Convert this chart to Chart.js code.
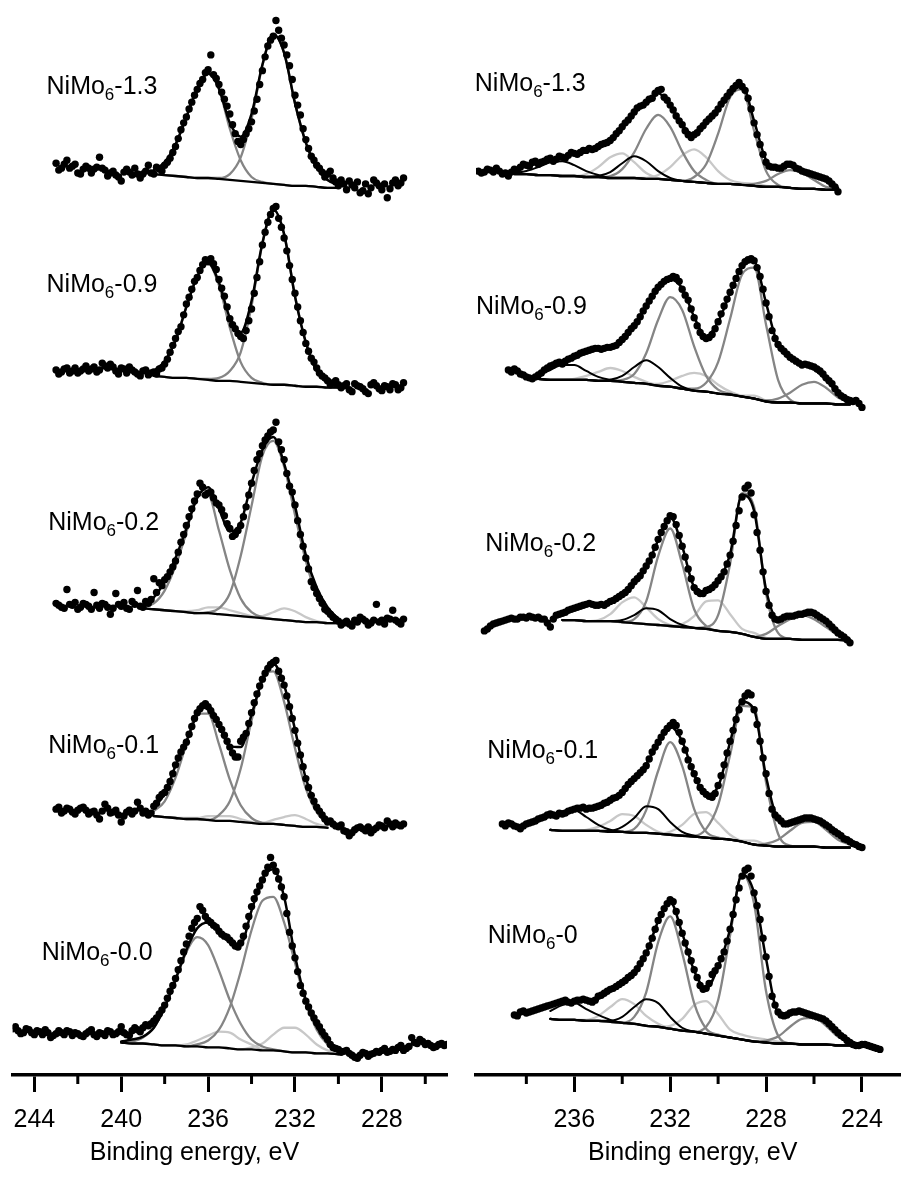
<!DOCTYPE html>
<html><head><meta charset="utf-8">
<script src="https://cdn.jsdelivr.net/npm/chart.js@4.4.1/dist/chart.umd.min.js"></script>
<style>
html,body{margin:0;padding:0;background:#fff;width:904px;height:1182px;overflow:hidden}
.wrap{position:absolute;top:0;width:452px;height:1182px}
</style></head><body>
<div class="wrap" style="left:0"><canvas id="cl"></canvas></div>
<div class="wrap" style="left:452px"><canvas id="cr"></canvas></div>
<script>
// ---------------- DATA ----------------
// Measured points every 0.25 eV (main) plus the points lying half-way (mid); fitted curves every 0.5 eV
const DOT_STEP = 0.25, FIT_STEP = 0.5;

const leftMajorTicks = [244, 240, 236, 232, 228];
const leftMinorTicks = [242, 238, 234, 230, 226];
const rightMajorTicks = [236, 232, 228, 224];
const rightMinorTicks = [238, 234, 230, 226];

const leftNames = ['1.3', '0.9', '0.2', '0.1', '0.0'];
const rightNames = ['1.3', '0.9', '0.2', '0.1', '0'];

const leftOffsets = [901, 698, 459, 251, 21];
const rightOffsets = [897, 681, 441, 231, 30];

const leftDotStart = [243, 243, 243, 243, 245];
const leftFitStart = [238.5, 238.5, 239, 238.5, 240];
const rightDotStart = [240, 238.75, 239.75, 239, 238.5];
const rightFitStart = [238.5, 237.5, 236.5, 237, 237];

// ---- Left panel ----
const L1_dots = [25,20,28,22,15,19,20,19,31,18,15,13,7,19,13,14,14,23,14,19,23,30,42,59,72,87,100,110,120,115,105,90,75,55,44,55,67,90,119,144,154,160,145,124,94,74,49,32,23,16,14,10,2,4,7,0,-5,4,0,5,-2,-10,5,2,10];
const L1_mid  = [18,24,20,24,14,22,15,21,20,12,17,11,16,16,20,10,17,15,21,17,26,36,50,66,80,94,106,117,135,111,97,83,64,47,49,60,78,105,133,150,170,152,135,110,84,60,40,28,20,11,17,6,8,-2,3,6,-3,-6,8,2,4,-1,8,5];
const L1_base = [14,13,12,11,10,10,9,8,7,6,5,4,3,2,2,1,0,0];
const L1_env  = [18,26,44,72,101,116,101,66,52,75,125,156,137,86,46,21,8,3];
const L1_A    = [18,26,44,72,101,116,100,60,28,11,6,4,3,2,2,1,0,0];
const L1_B    = [14,13,12,11,10,10,10,14,31,70,124,156,137,86,46,21,8,3];

const L2_dots = [18,16,20,17,15,19,17,21,18,22,24,17,20,15,18,14,17,13,16,19,24,36,50,62,85,100,112,125,128,126,110,93,70,60,52,58,80,112,145,168,182,172,152,124,96,68,45,30,20,12,7,5,3,2,-2,4,1,-4,3,2,-3,1,4,-2,5];
const L2_mid  = [14,19,15,20,17,22,19,16,25,20,21,14,19,21,16,12,18,15,14,20,29,43,57,74,92,108,119,130,131,120,101,82,64,55,50,68,96,128,158,176,184,163,139,110,82,56,37,26,15,10,3,7,0,4,-4,2,-1,-6,5,-1,2,-2,3,0];
const L2_base = [12,11,10,10,9,8,7,7,6,5,4,3,3,2,1,1,0,0];
const L2_env  = [17,27,48,82,113,127,107,71,56,88,147,181,156,93,46,17,5,1];
const L2_A    = [17,27,48,82,113,126,104,61,26,10,5,3,3,2,1,1,0,0];
const L2_B    = [12,11,10,10,9,9,10,17,36,83,146,181,156,93,46,17,5,1];

const L3_dots = [20,16,34,18,14,20,17,31,15,19,9,30,17,15,22,33,16,20,45,41,44,52,63,82,99,116,131,138,132,127,120,109,96,90,99,118,142,166,180,190,196,184,166,139,120,90,66,42,30,20,12,6,2,0,-1,3,6,2,0,19,3,5,13,1,4];
const L3_mid  = [18,15,19,21,16,19,14,18,20,16,15,19,21,14,19,17,22,24,31,38,47,57,72,90,108,124,142,130,133,122,115,101,88,94,108,130,155,172,186,194,204,176,152,133,104,78,55,36,25,14,9,4,-2,2,-3,1,4,-2,3,1,-1,4,3,-1];
const L3_base = [15,14,13,12,11,10,10,9,8,7,6,5,4,3,2,1,1,0,0];
const L3_env  = [16,26,42,66,96,127,138,116,93,102,142,176,189,162,119,69,36,16,4];
const L3_A    = [16,20,33,58,92,130,130,94,54,25,11,6,4,3,2,1,1,0,0];
const L3_B    = [15,14,13,12,11,10,11,15,30,68,119,170,185,159,110,63,28,10,3];
const L3_C    = [15,14,13,12,11,10,10,9,8,7,6,7,11,15,12,6,2,0,0];
const L3_D    = [15,14,13,12,12,13,16,16,13,10,7,5,4,3,2,1,1,0,0];

const L4_dots = [19,15,20,16,18,21,14,17,9,24,15,18,6,16,14,26,15,13,22,31,36,47,64,77,87,103,117,124,123,114,105,94,82,72,88,96,117,136,151,162,168,159,145,123,99,74,50,33,21,13,6,4,1,-3,-8,-2,1,-3,-5,0,2,7,1,3,4];
const L4_mid  = [21,17,19,14,20,18,16,13,17,20,16,13,12,18,17,20,17,15,25,34,41,55,71,82,95,111,121,126,119,110,100,88,76,72,92,106,127,144,157,166,170,152,134,111,86,62,41,27,17,9,7,2,3,-4,-5,0,-1,1,-2,3,0,4,5,2];
const L4_base = [12,11,10,9,9,8,7,7,6,5,4,4,3,2,1,1,0];
const L4_env  = [20,35,63,88,115,124,105,83,82,115,150,167,145,100,50,22,6];
const L4_A    = [17,27,51,85,116,116,85,49,23,10,5,4,3,2,1,1,0];
const L4_B    = [12,11,10,9,9,8,13,27,60,109,152,159,128,81,40,16,4];
const L4_C    = [12,11,10,9,9,8,7,7,6,5,5,8,11,13,9,4,1];
const L4_D    = [12,11,10,10,10,12,12,12,9,6,4,4,3,2,1,1,0];

const L5_dots = [26,24,22,25,20,23,25,17,21,22,24,19,21,18,23,20,22,19,23,21,28,20,24,25,27,29,34,41,50,64,77,95,112,128,138,146,136,131,125,120,116,110,113,130,150,165,177,190,192,178,160,124,98,70,54,42,32,23,15,7,5,3,1,-3,-1,1,0,3,4,2,5,7,4,8,12,15,10,9,8,11,10];
const L5_mid  = [28,21,26,22,24,20,22,19,24,20,23,22,19,21,25,18,21,24,20,23,22,19,27,23,30,31,37,45,57,70,86,104,120,134,150,140,134,129,122,119,113,109,120,140,158,171,184,200,186,170,143,110,84,62,48,37,28,19,10,6,2,4,-1,-4,2,-2,1,2,6,3,4,9,6,17,11,13,11,7,10,9];
const L5_base = [12,11,11,10,9,9,8,8,7,7,6,5,5,4,4,3,2,2,1,1,0];
const L5_env  = [13,15,18,27,48,76,106,128,134,124,114,112,146,178,188,160,100,55,28,12,3];
const L5_A    = [12,13,17,27,47,75,104,119,111,85,55,31,15,8,5,3,2,2,1,1,0];
const L5_B    = [12,11,11,10,9,9,8,10,14,25,48,84,126,156,160,134,93,53,25,10,3];
const L5_C    = [12,11,11,10,9,9,8,8,7,7,6,5,7,11,20,27,27,20,10,4,1];
const L5_D    = [12,11,11,10,9,9,10,14,19,23,22,15,10,5,4,3,2,2,1,1,0];

// ---- Right panel ----
const R1_dots = [21,20,22,24,18,16,23,25,27,30,28,31,34,33,35,37,39,40,42,43,46,49,52,59,66,73,81,87,91,95,103,96,88,77,68,58,58,64,71,77,84,93,101,108,107,95,70,48,30,25,24,26,28,24,21,19,17,15,13,8,0];
const R1_mid  = [19,23,20,21,19,20,22,28,26,31,30,33,31,36,34,40,38,42,44,44,48,50,55,62,70,77,85,88,94,100,104,93,83,72,62,55,60,67,74,80,89,97,105,111,103,84,58,38,26,25,24,28,27,23,20,18,16,14,11,5];
const R1_base = [18,18,17,17,16,16,15,15,14,14,14,13,13,12,11,10,9,8,8,7,6,5,5,4,3,3,2,2];
const R1_env  = [23,26,29,33,35,38,42,46,53,66,80,91,100,88,68,58,70,84,101,108,72,32,24,27,22,17,12,4];
const R1_A    = [18,18,17,17,16,16,15,15,16,23,40,64,78,66,41,21,12,8,8,7,6,5,5,4,3,3,2,2];
const R1_B    = [18,18,17,17,16,16,15,15,14,14,14,13,13,12,11,15,28,59,96,104,62,21,7,4,3,3,2,2];
const R1_C    = [18,18,17,17,16,16,18,25,35,39,30,19,14,12,11,10,9,8,8,7,6,5,5,4,3,3,2,2];
const R1_D    = [18,18,17,17,16,16,15,15,14,14,14,14,17,25,37,43,35,21,12,9,8,6,5,4,3,3,2,2];
const R1_E    = [18,18,17,17,16,16,15,16,20,29,36,31,21,14,11,10,9,8,8,7,6,5,5,4,3,3,2,2];
const R1_F    = [19,21,25,30,31,27,21,17,14,14,14,13,13,12,11,10,9,8,8,7,6,5,5,4,3,3,2,2];
const R1_G    = [18,18,17,17,16,16,15,15,14,14,14,13,13,12,11,10,9,8,8,7,8,11,18,22,19,12,5,3];

const R2_dots = [35,36,31,28,26,30,35,39,42,41,46,49,52,54,56,57,57,58,60,66,73,80,89,100,110,119,125,128,129,117,106,88,73,67,71,84,100,114,128,141,147,146,130,103,75,61,54,48,44,40,40,38,34,27,21,12,7,4,4,-3];
const R2_mid  = [33,34,30,27,28,32,37,40,43,44,47,50,53,55,57,56,58,59,63,69,77,84,95,105,115,122,127,130,125,111,97,80,69,68,77,92,107,121,135,145,148,139,117,89,67,57,51,46,42,41,39,36,31,24,16,9,5,3,1];
const R2_base = [26,25,25,25,25,24,24,23,22,21,19,18,16,14,13,11,10,8,6,3,2,2,1,1,1,0,0];
const R2_env  = [30,38,42,48,53,56,58,65,80,99,118,127,118,89,69,84,113,140,145,103,60,49,41,36,25,12,4];
const R2_A    = [26,25,25,25,25,24,24,25,31,52,86,109,96,59,29,15,11,8,6,3,2,2,1,1,1,0,0];
const R2_B    = [26,25,25,25,25,24,24,23,22,21,19,18,16,16,22,43,87,132,139,81,25,5,1,1,1,0,0];
const R2_C    = [26,25,25,26,29,33,37,34,28,23,19,18,16,14,13,11,10,8,6,3,2,2,1,1,1,0,0];
const R2_D    = [26,25,25,25,25,24,24,23,22,21,21,24,29,32,29,20,13,9,9,4,2,2,1,1,1,0,0];
const R2_E    = [26,25,25,25,25,24,25,29,38,45,38,27,18,14,13,11,10,8,6,3,2,2,1,1,1,0,0];
const R2_F    = [30,35,40,40,34,28,25,23,22,21,19,18,16,14,13,11,10,8,6,3,2,2,1,1,1,0,0];
const R2_G    = [26,25,25,25,25,24,24,23,22,21,19,18,16,14,13,11,10,8,6,4,6,12,20,23,17,7,2];

const R3_dots = [10,15,18,20,22,22,24,23,24,24,22,14,26,28,31,33,35,37,37,36,36,40,43,47,52,60,66,76,87,103,116,127,118,96,73,54,48,51,54,61,70,87,117,146,158,128,92,50,26,21,24,25,26,27,29,28,24,20,14,8,4,-2];
const R3_mid  = [12,17,19,21,23,22,24,25,23,22,18,22,27,29,32,34,36,38,36,37,38,41,45,49,56,63,71,81,95,110,122,126,107,85,63,50,48,52,57,65,78,101,132,155,150,110,70,36,22,22,25,25,27,28,29,26,22,17,11,6,1];
const R3_base = [21,21,20,20,20,19,18,17,16,15,14,13,12,10,9,7,4,2,2,2,1,1,1,1,0];
const R3_env  = [28,33,36,37,39,46,58,75,102,126,96,55,50,60,88,148,132,52,22,24,27,27,20,8,1];
const R3_A    = [21,21,20,20,20,19,22,40,86,114,78,32,15,10,9,7,4,2,2,2,1,1,1,1,0];
const R3_B    = [21,21,20,20,20,19,18,17,16,15,14,13,14,26,78,150,136,48,8,2,1,1,1,1,0];
const R3_C    = [21,21,20,21,27,39,44,34,22,16,14,13,12,10,9,7,4,2,2,2,1,1,1,1,0];
const R3_D    = [21,21,20,20,20,19,18,17,16,15,17,25,40,41,27,12,8,3,2,2,1,1,1,1,0];
const R3_E    = [21,21,20,20,20,21,26,33,31,22,16,13,12,10,9,7,4,2,2,2,1,1,1,1,0];
const R3_G    = [21,21,20,20,20,19,18,17,16,15,14,13,12,10,9,7,4,7,15,22,26,22,14,6,2];

const R4_dots = [24,25,22,19,24,26,29,31,34,32,34,37,39,40,39,40,42,45,48,51,56,64,70,76,83,97,107,117,124,124,108,89,75,61,54,51,63,84,108,130,148,157,140,108,75,39,30,24,25,27,29,30,29,27,23,18,14,9,6,3,0];
const R4_mid  = [22,24,21,22,25,27,30,33,33,35,35,38,40,41,40,41,43,46,50,53,60,67,73,79,90,102,112,121,127,117,99,82,68,57,52,55,73,96,119,140,154,155,125,91,55,33,27,24,26,28,30,30,28,25,21,16,12,8,4,1];
const R4_base = [18,17,17,17,17,16,16,15,15,14,13,12,11,10,9,8,6,3,2,1,1,1,1,0,0,0];
const R4_env  = [34,35,39,40,42,48,56,70,85,106,123,108,74,54,62,107,148,140,72,29,25,29,29,23,14,6];
const R4_A    = [18,17,17,17,17,16,16,19,38,78,107,83,39,16,10,8,6,3,2,1,1,1,1,0,0,0];
const R4_B    = [18,17,17,17,17,16,16,15,15,14,13,12,12,19,43,94,144,142,66,14,2,1,1,0,0,0];
const R4_C    = [18,17,17,18,21,27,34,32,23,16,13,12,11,10,9,8,6,3,2,1,1,1,1,0,0,0];
const R4_D    = [18,17,17,17,17,16,16,15,15,14,16,23,34,36,25,13,7,7,3,1,1,1,1,0,0,0];
const R4_E    = [18,17,17,17,17,17,21,30,42,39,26,16,12,10,9,8,6,3,2,1,1,1,1,0,0,0];
const R4_F    = [30,37,38,31,23,18,16,15,15,14,13,12,11,10,9,8,6,3,2,1,1,1,1,0,0,0];
const R4_G    = [18,17,17,17,17,16,16,15,15,14,13,12,11,10,9,8,6,3,4,8,17,25,26,18,8,3];

const R5_dots = [31,34,33,35,37,39,41,43,45,44,45,46,46,44,50,53,57,60,64,69,74,83,94,109,127,139,148,136,114,95,77,61,58,72,81,95,118,148,172,180,155,128,90,50,34,30,33,34,34,32,30,28,25,19,13,8,3,0,1,0,-2,-4];
const R5_mid  = [30,35,34,36,38,40,42,44,46,43,46,47,45,46,51,55,58,62,66,71,78,88,101,118,133,144,146,125,104,86,69,57,63,76,88,106,133,160,178,172,142,109,70,41,31,31,34,35,33,31,29,27,22,16,10,5,1,0,1,-1,-3];
const R5_base = [27,26,26,25,25,24,23,22,20,19,17,15,14,12,10,8,6,4,3,2,2,1,1,1,0,0];
const R5_env  = [41,44,45,46,49,56,64,75,94,126,146,114,76,58,80,118,174,155,88,34,32,34,30,25,13,3];
const R5_A    = [27,26,26,25,25,24,23,29,54,105,131,94,43,17,11,8,6,4,3,2,2,1,1,1,0,0];
const R5_B    = [27,26,26,25,25,24,23,22,20,19,17,15,14,19,46,112,174,144,55,10,2,1,1,1,0,0];
const R5_C    = [27,26,26,26,30,39,47,42,30,22,17,15,14,12,10,8,6,4,3,2,2,1,1,1,0,0];
const R5_D    = [27,26,26,25,25,24,23,22,20,19,20,27,41,45,32,16,11,8,6,4,2,1,1,1,0,0];
const R5_E    = [27,26,26,25,25,25,29,39,47,43,29,18,14,12,10,8,6,4,3,2,2,1,1,1,0,0];
const R5_F    = [35,41,43,37,31,26,23,22,20,19,17,15,14,12,10,8,6,4,3,2,2,1,1,1,0,0];
const R5_G    = [27,26,26,25,25,24,23,22,20,19,17,15,14,12,10,8,6,4,5,9,19,27,28,20,9,3];

// ---------------- BUILD ----------------
const FONT = '"Liberation Sans", Arial, Helvetica, sans-serif';
const STYLE = {
  light: {color:'#c8c8c8', width:2.3, order:6},
  dark:  {color:'#858585', width:2.3, order:5},
  black: {color:'#000000', width:2.0, order:4}
};

const leftSpectra = [
  {dots:L1_dots, mid:L1_mid, base:L1_base, env:L1_env, comps:[[L1_A,'dark'],[L1_B,'dark']]},
  {dots:L2_dots, mid:L2_mid, base:L2_base, env:L2_env, comps:[[L2_A,'dark'],[L2_B,'dark']]},
  {dots:L3_dots, mid:L3_mid, base:L3_base, env:L3_env, comps:[[L3_C,'light'],[L3_D,'light'],[L3_A,'dark'],[L3_B,'dark']]},
  {dots:L4_dots, mid:L4_mid, base:L4_base, env:L4_env, comps:[[L4_C,'light'],[L4_D,'light'],[L4_A,'dark'],[L4_B,'dark']]},
  {dots:L5_dots, mid:L5_mid, base:L5_base, env:L5_env, comps:[[L5_C,'light'],[L5_D,'light'],[L5_A,'dark'],[L5_B,'dark']]}
].map((s,i)=>Object.assign(s,{offset:leftOffsets[i], dotStart:leftDotStart[i], fitStart:leftFitStart[i]}));

const rightSpectra = [
  {dots:R1_dots, mid:R1_mid, base:R1_base, env:R1_env, comps:[[R1_C,'light'],[R1_D,'light'],[R1_A,'dark'],[R1_B,'dark'],[R1_G,'dark'],[R1_E,'black'],[R1_F,'black']]},
  {dots:R2_dots, mid:R2_mid, base:R2_base, env:R2_env, comps:[[R2_C,'light'],[R2_D,'light'],[R2_A,'dark'],[R2_B,'dark'],[R2_G,'dark'],[R2_E,'black'],[R2_F,'black']]},
  {dots:R3_dots, mid:R3_mid, base:R3_base, env:R3_env, comps:[[R3_C,'light'],[R3_D,'light'],[R3_A,'dark'],[R3_B,'dark'],[R3_G,'dark'],[R3_E,'black']]},
  {dots:R4_dots, mid:R4_mid, base:R4_base, env:R4_env, comps:[[R4_C,'light'],[R4_D,'light'],[R4_A,'dark'],[R4_B,'dark'],[R4_G,'dark'],[R4_E,'black'],[R4_F,'black']]},
  {dots:R5_dots, mid:R5_mid, base:R5_base, env:R5_env, comps:[[R5_C,'light'],[R5_D,'light'],[R5_A,'dark'],[R5_B,'dark'],[R5_G,'dark'],[R5_E,'black'],[R5_F,'black']]}
].map((s,i)=>Object.assign(s,{offset:rightOffsets[i], dotStart:rightDotStart[i], fitStart:rightFitStart[i]}));

function series(start, step, vals, offset){
  return vals.map((v,i)=>({x: start - i*step, y: offset + v}));
}
function lineDs(start, vals, offset, color, width, order){
  return {data: series(start, FIT_STEP, vals, offset), showLine:true, borderColor:color, borderWidth:width,
          pointRadius:0, cubicInterpolationMode:'monotone', fill:false, order:order, borderCapStyle:'round', borderJoinStyle:'round'};
}
function buildDatasets(specs){
  const ds = [];
  specs.forEach(s=>{
    const pts = series(s.dotStart, DOT_STEP, s.dots, s.offset)
      .concat(series(s.dotStart - DOT_STEP/2, DOT_STEP, s.mid, s.offset));
    ds.push({data: pts, showLine:false, pointRadius:3.7,
             pointBackgroundColor:'#000', pointBorderColor:'#000', pointBorderWidth:0, pointHoverRadius:3.7, order:1});
    ds.push(lineDs(s.fitStart, s.env, s.offset, '#000', 2.5, 2));
    ds.push(lineDs(s.fitStart, s.base, s.offset, '#000', 2.3, 3));
    s.comps.forEach(([arr,kind])=>{
      const st = STYLE[kind];
      ds.push(lineDs(s.fitStart, arr, s.offset, st.color, st.width, st.order));
    });
  });
  return ds;
}

const textPlugin = {
  id:'panelText',
  afterDraw(chart, args, opts){
    const ctx = chart.ctx, xs = chart.scales.x, ys = chart.scales.y;
    ctx.save();
    ctx.fillStyle = '#000';
    ctx.textBaseline = 'alphabetic';
    ctx.strokeStyle = '#000'; ctx.lineWidth = 3;
    opts.minor.forEach(v=>{
      const x = xs.getPixelForValue(v);
      ctx.beginPath(); ctx.moveTo(x, xs.top); ctx.lineTo(x, xs.top + 9); ctx.stroke();
    });
    opts.labels.forEach(l=>{
      let x = xs.getPixelForValue(l.e);
      const y = ys.getPixelForValue(l.y);
      ctx.textAlign = 'left';
      ctx.font = '25px ' + FONT;
      ctx.fillText('NiMo', x, y); x += ctx.measureText('NiMo').width;
      ctx.font = '17px ' + FONT;
      ctx.fillText('6', x, y + 6); x += ctx.measureText('6').width;
      ctx.font = '25px ' + FONT;
      ctx.fillText('-' + l.text, x, y);
    });
    ctx.font = '25px ' + FONT;
    ctx.textAlign = 'center';
    ctx.fillText('Binding energy, eV', xs.getPixelForValue(opts.titleE), chart.chartArea.bottom + 85);
    ctx.restore();
  }
};

function makeChart(id, specs, xmin, xmax, majors, minors, padL, padR, labels, titleE){
  return new Chart(document.getElementById(id), {
    type:'line',
    data:{datasets: buildDatasets(specs)},
    plugins:[textPlugin],
    options:{
      responsive:true, maintainAspectRatio:false, animation:false, devicePixelRatio:1,
      events:[],
      layout:{padding:{left:padL, right:padR, top:0, bottom:34}},
      plugins:{legend:{display:false}, tooltip:{enabled:false},
               panelText:{minor:minors, labels:labels, titleE:titleE}},
      scales:{
        x:{type:'linear', reverse:true, min:xmin, max:xmax,
           afterBuildTicks:(sc)=>{ sc.ticks = majors.map(v=>({value:v})); },
           grid:{display:true, drawOnChartArea:false, drawTicks:true, tickLength:17, tickWidth:3, tickColor:'#000'},
           border:{display:true, width:3.5, color:'#000'},
           ticks:{autoSkip:false, maxRotation:0, padding:13, color:'#000', font:{family:FONT, size:25}}},
        y:{display:false, min:0, max:1088}
      }
    }
  });
}

const leftLabelItems = leftNames.map((t,i)=>({text:t, e:[243.44,243.44,243.36,243.36,243.66][i], y:[996,795,554,327.5,116.3][i]}));
const rightLabelItems = rightNames.map((t,i)=>({text:t, e:[240.15,240.1,239.71,239.63,239.61][i], y:[999.7,773,532,322,133.7][i]}));

makeChart('cl', leftSpectra, 225, 245, leftMajorTicks, leftMinorTicks, 10, 5, leftLabelItems, 236.63);
makeChart('cr', rightSpectra, 222.4, 240.1, rightMajorTicks, rightMinorTicks, 24, 2, rightLabelItems, 231.06);
</script>
</body></html>
